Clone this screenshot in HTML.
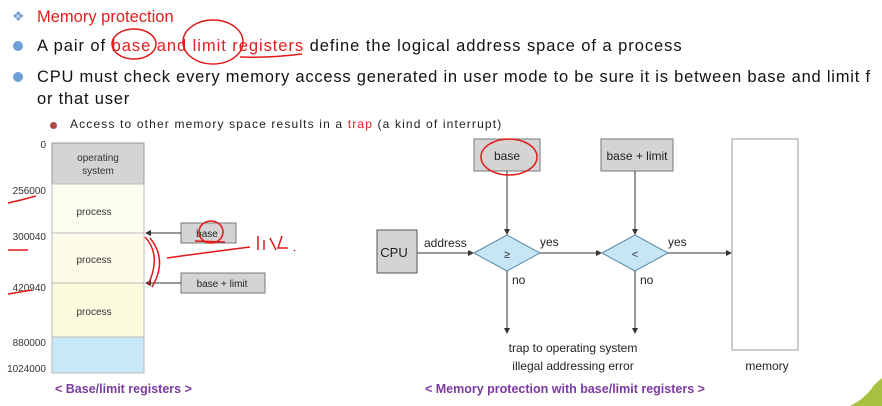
<!DOCTYPE html>
<html><head><style>
body{margin:0;width:882px;height:406px;background:#fff;font-family:"Liberation Sans",sans-serif;position:relative;overflow:hidden}
.t{position:absolute;white-space:nowrap}
.b{font-size:16.5px;color:#111}
.dot{position:absolute;width:10px;height:10px;border-radius:50%;background:#6f9fd8}
.r{color:#e02020}
</style></head><body>
<div class="t" style="left:12px;top:8px;color:#7a9fd0;font-size:14px">❖</div>
<div class="t r" style="left:37px;top:8px;font-size:16.5px">Memory protection</div>
<div class="dot" style="left:13px;top:41px"></div>
<div class="t b" style="left:37px;top:37px;letter-spacing:0.95px">A pair of <span class="r">base and limit registers</span> define the logical address space of a process</div>
<div class="dot" style="left:13px;top:72px"></div>
<div class="t b" style="left:37px;top:68px;letter-spacing:0.78px">CPU must check every memory access generated in user mode to be sure it is between base and limit f</div>
<div class="t b" style="left:37px;top:90px;letter-spacing:0.8px">or that user</div>
<div class="dot" style="left:50px;top:122px;width:7px;height:7px;background:#b04848"></div>
<div class="t" style="left:70px;top:117px;font-size:12px;color:#222;letter-spacing:1.15px">Access to other memory space results in a <span class="r">trap</span> (a kind of interrupt)</div>

<svg width="882" height="406" style="position:absolute;left:0;top:0" font-family="Liberation Sans, sans-serif">
<defs><marker id="a" markerWidth="6" markerHeight="6" refX="5" refY="3" orient="auto"><path d="M0,0L6,3L0,6z" fill="#333"/></marker></defs>
<rect x="52" y="143" width="92" height="41" fill="#d4d4d4" stroke="#999"/>
<rect x="52" y="184" width="92" height="49" fill="#fdfdf0" stroke="#bbb"/>
<rect x="52" y="233" width="92" height="50" fill="#fcfce8" stroke="#bbb"/>
<rect x="52" y="283" width="92" height="54" fill="#fafadc" stroke="#bbb"/>
<rect x="52" y="337" width="92" height="36" fill="#c8e8f8" stroke="#bbb"/>
<g font-size="10" fill="#333" text-anchor="middle">
<text x="98" y="161">operating</text><text x="98" y="174">system</text>
<text x="94" y="215">process</text><text x="94" y="263">process</text><text x="94" y="315">process</text>
</g>
<g font-size="10" fill="#333" text-anchor="end">
<text x="46" y="148">0</text><text x="46" y="194">256000</text><text x="46" y="240">300040</text>
<text x="46" y="291">420940</text><text x="46" y="346">880000</text><text x="46" y="372">1024000</text>
</g>
<rect x="181" y="223" width="55" height="20" fill="#d4d4d4" stroke="#777"/>
<text x="207" y="237" font-size="10" text-anchor="middle" fill="#222">base</text>
<rect x="181" y="273" width="84" height="20" fill="#d4d4d4" stroke="#777"/>
<text x="222" y="287" font-size="10" text-anchor="middle" fill="#222">base + limit</text>
<line x1="181" y1="233" x2="146" y2="233" stroke="#333" marker-end="url(#a)"/>
<line x1="181" y1="283" x2="146" y2="283" stroke="#333" marker-end="url(#a)"/>
<rect x="474" y="139" width="66" height="32" fill="#d4d4d4" stroke="#777"/>
<text x="507" y="160" font-size="12" text-anchor="middle" fill="#222">base</text>
<rect x="601" y="139" width="72" height="32" fill="#d4d4d4" stroke="#777"/>
<text x="637" y="160" font-size="12" text-anchor="middle" fill="#222">base + limit</text>
<rect x="732" y="139" width="66" height="211" fill="#fff" stroke="#999"/>
<rect x="377" y="230" width="40" height="43" fill="#d4d4d4" stroke="#555"/>
<text x="394" y="257" font-size="13" text-anchor="middle" fill="#222">CPU</text>
<polygon points="474,253 507,235 540,253 507,271" fill="#c6e6f6" stroke="#5a8aa8"/>
<polygon points="602,253 635,235 668,253 635,271" fill="#c6e6f6" stroke="#5a8aa8"/>
<text x="507" y="258" font-size="11" text-anchor="middle" fill="#333">≥</text>
<text x="635" y="258" font-size="11" text-anchor="middle" fill="#333">&lt;</text>
<g stroke="#333" fill="none">
<line x1="507" y1="171" x2="507" y2="234" marker-end="url(#a)"/>
<line x1="635" y1="171" x2="635" y2="234" marker-end="url(#a)"/>
<line x1="417" y1="253" x2="473" y2="253" marker-end="url(#a)"/>
<line x1="540" y1="253" x2="601" y2="253" marker-end="url(#a)"/>
<line x1="668" y1="253" x2="731" y2="253" marker-end="url(#a)"/>
<line x1="507" y1="271" x2="507" y2="333" marker-end="url(#a)"/>
<line x1="635" y1="271" x2="635" y2="333" marker-end="url(#a)"/>
</g>
<g font-size="12" fill="#222">
<text x="424" y="247">address</text><text x="540" y="246">yes</text><text x="668" y="246">yes</text>
<text x="512" y="284">no</text><text x="640" y="284">no</text>
<text x="573" y="352" text-anchor="middle">trap to operating system</text>
<text x="573" y="370" text-anchor="middle">illegal addressing error</text>
<text x="767" y="370" text-anchor="middle">memory</text>
</g>
<g font-size="12.5" font-weight="bold" fill="#7a3aa0">
<text x="55" y="393">&lt; Base/limit registers &gt;</text>
<text x="425" y="393">&lt; Memory protection with base/limit registers &gt;</text>
</g>
<path d="M850,406 Q866,398 874,385 L882,378 L882,406 Z" fill="#a8c040"/>
<g stroke="#e01818" fill="none" stroke-width="1.5">
<path d="M8,203 Q22,200 36,196"/><path d="M8,250 L28,250"/><path d="M8,294 Q20,292 32,290"/>
<ellipse cx="211" cy="232" rx="12" ry="11"/><path d="M195,241 L225,242"/>
<path d="M145,237 Q162,255 148,285 M150,238 Q168,260 152,287"/>
<path d="M167,258 Q210,252 250,247"/>
<path d="M258,236 L258,250 M264,240 L264,250 M270,238 L276,250 M282,236 L278,248 L288,248 M294,250 L295,251"/>
<ellipse cx="134" cy="44" rx="22" ry="15"/><ellipse cx="213" cy="42" rx="30" ry="22"/>
<path d="M240,57 Q270,58 302,54"/>
<ellipse cx="509" cy="157" rx="28" ry="18"/>
</g>
</svg>
</body></html>
